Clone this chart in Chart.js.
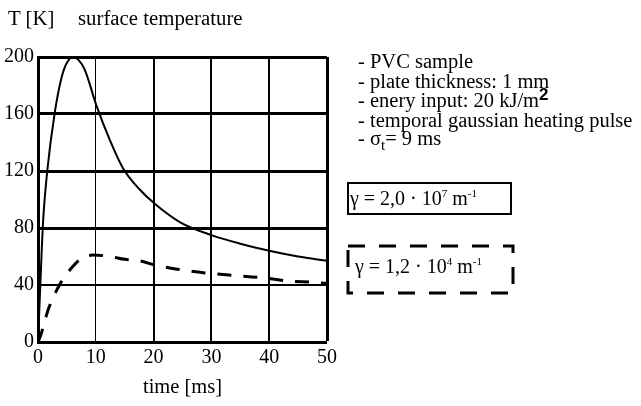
<!DOCTYPE html>
<html><head><meta charset="utf-8">
<script src="https://cdn.jsdelivr.net/npm/chart.js@4"></script>
<style>
body{margin:0;background:#fff;}
#wrap{position:relative;width:641px;height:406px;overflow:hidden;font-family:"Liberation Serif",serif;color:#000;background:#fff;}
canvas{position:absolute;left:0;top:0;}
.t{position:absolute;font-size:20px;line-height:20px;white-space:nowrap;}
.r{font-size:20.5px;}
.sp{position:relative;font-size:11px;top:-8px;}
</style></head><body>
<div id="wrap">
<canvas id="c" width="641" height="406"></canvas>
<div class="t" style="left:8px;top:8px;font-size:20.8px">T [K]</div>
<div class="t" style="left:78px;top:8px;font-size:20.8px">surface temperature</div>
<div class="t r" style="left:358px;top:51px">- PVC sample</div>
<div class="t r" style="left:358px;top:70.5px">- plate thickness: 1 mm</div>
<div class="t r" style="left:358px;top:90px">- enery input: 20 kJ/m<span style="position:relative;top:-7px;font-family:'Liberation Sans',sans-serif;font-size:17px;font-weight:bold">2</span></div>
<div class="t r" style="left:358px;top:109.5px">- temporal gaussian heating pulse</div>
<div class="t r" style="left:358px;top:128px">- σ<span style="position:relative;top:5px;font-size:15px">t</span>= 9 ms</div>
<div style="position:absolute;left:347px;top:182px;width:161px;height:29px;border:2px solid #000"></div>
<div class="t" style="left:350px;top:188px">γ = 2,0 · 10<span class="sp">7</span> m<span class="sp">-1</span></div>
<svg style="position:absolute;left:0;top:0" width="641" height="406"><rect x="348" y="246" width="165" height="47" fill="none" stroke="#000" stroke-width="3" stroke-dasharray="17 14"/></svg>
<div class="t" style="left:355px;top:256px">γ = 1,2 · 10<span class="sp">4</span> m<span class="sp">-1</span></div>
</div>
<script>
// data
const timeSolid = [0,0.3,0.6,0.9,1.6,2.9,4.1,5,6.1,7,8.1,10.1,12.4,14.7,17.6,20.2,24.6,30,35,40,45,50];
const tempSolid = [0,30,60,86,120,161,186,196,200,198,191,166,142,122,107,97,84,75,69,64,60,57];
const timeDashed = [0,0.5,1,1.7,2.6,4.2,5.5,7.3,9.5,12.5,15,17.6,20.2,22.8,25,28.9,33,36,39,44,47,50];
const tempDashed = [0,5,12,22,31,43.5,50.5,58,61,60,58,57,54,52,50.5,48.5,47,46,45,42.5,42,41];
const xTicks = [0,10,20,30,40,50];
const yTicks = [0,40,80,120,160,200];

const toPts = (xs, ys) => xs.map((x,i)=>({x:x,y:ys[i]}));
const font = {family:"Liberation Serif", size:20};

new Chart(document.getElementById('c'), {
  type:'scatter',
  data:{datasets:[
    {data:toPts(timeSolid,tempSolid), showLine:true, borderColor:'#000', borderWidth:2, pointRadius:0, cubicInterpolationMode:'monotone', fill:false},
    {data:toPts(timeDashed,tempDashed), showLine:true, borderColor:'#000', borderWidth:3, borderDash:[14,12], pointRadius:0, cubicInterpolationMode:'monotone', fill:false}
  ]},
  options:{
    responsive:false, animation:false,
    layout:{padding:{left:0,top:57,right:314,bottom:0}},
    plugins:{legend:{display:false},tooltip:{enabled:false}},
    scales:{
      x:{type:'linear',min:0,max:50,
        afterBuildTicks:s=>{s.ticks=xTicks.map(v=>({value:v}));},
        afterFit:s=>{s.height=64;},
        grid:{color:'#000',drawTicks:false,lineWidth:c=>{const v=c.tick.value;return v===0?0:v===10?1:v===50?3:2;}},
        border:{display:true,color:'#000',width:3},
        ticks:{color:'#000',font:font,padding:4,maxRotation:0},
        title:{display:true,text:'time [ms]',color:'#000',font:{family:"Liberation Serif",size:20.5},padding:{top:0,bottom:6}}
      },
      y:{type:'linear',min:0,max:200,
        afterBuildTicks:s=>{s.ticks=yTicks.map(v=>({value:v}));},
        afterFit:s=>{s.width=38;},
        grid:{color:'#000',drawTicks:false,lineWidth:c=>{const v=c.tick.value;return v===0?0:v===40?2:3;}},
        border:{display:true,color:'#000',width:3},
        ticks:{color:'#000',font:font,padding:4}
      }
    }
  }
});
</script>
</body></html>
